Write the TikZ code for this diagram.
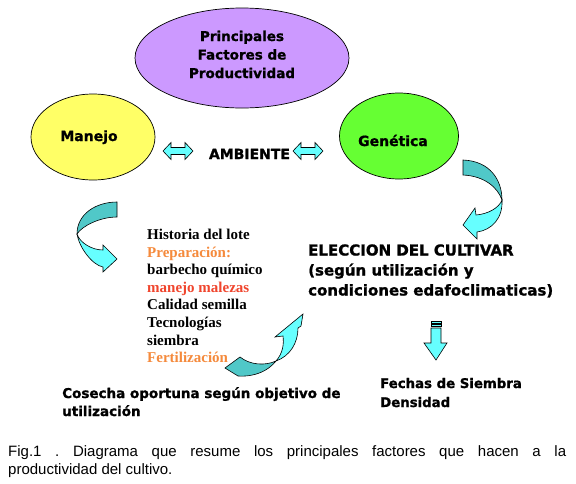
\documentclass[tikz,border=0pt]{standalone}
\usepackage{fontspec}
\setmainfont{DejaVu Sans}
\newfontfamily\verd{DejaVu Sans}[BoldFeatures={FakeBold=1.2}]
\newfontfamily\tim{Liberation Serif}
\newfontfamily\ari{Liberation Sans}
\usetikzlibrary{shapes.geometric}
\definecolor{purp}{HTML}{CC99FF}
\definecolor{yel}{HTML}{FFFF66}
\definecolor{grn}{HTML}{66FF33}
\definecolor{cyn}{HTML}{66FFFF}
\definecolor{tealdark}{HTML}{50C8C8}
\definecolor{orng}{HTML}{F58A3C}
\definecolor{redo}{HTML}{F0452D}
\frenchspacing
\begin{document}
\begin{tikzpicture}[x=1pt,y=-1pt,
  oval/.style={ellipse, draw=black, line width=0.7pt, inner sep=0pt},
  vt/.style={font=\verd\bfseries\fontsize{14}{17}\selectfont, inner sep=0pt, anchor=base},
  vtl/.style={font=\verd\bfseries\fontsize{#1}{17}\selectfont, inner sep=0pt, anchor=base west},
  lt/.style={font=\tim\bfseries\fontsize{15}{17}\selectfont, inner sep=0pt, anchor=base west},
  captxt/.style={font=\ari\fontsize{15}{17}\selectfont, inner sep=0pt, anchor=base west},
  shp/.style={draw=black, line width=0.6pt},
  dbl/.pic={\draw[shp, fill=cyn] (-15,0) -- (-7,-8.5) -- (-7,-3.5) -- (7,-3.5) -- (7,-8.5) -- (15,0)
            -- (7,8.5) -- (7,3.5) -- (-7,3.5) -- (-7,8.5) -- cycle;}
]
\fill[white] (0,0) rectangle (576,483);
\useasboundingbox (0,0) rectangle (576,483);

% ellipses
\node[oval, fill=purp, minimum width=214pt, minimum height=100pt] (prin) at (242,58) {};
\node[oval, fill=yel, minimum width=124pt, minimum height=86pt] (man) at (93,137) {};
\node[oval, fill=grn, minimum width=119pt, minimum height=86pt] (gen) at (399,136) {};

\node[vt, font=\verd\bfseries\fontsize{13.5}{17}\selectfont] (p1) at (242,41) {Principales};
\node[vt, font=\verd\bfseries\fontsize{13.5}{17}\selectfont] (p2) at (242,59.5) {Factores de};
\node[vt, font=\verd\bfseries\fontsize{13.5}{17}\selectfont] (p3) at (242,78) {Productividad};
\node[vt] (mt) at (89,141) {Manejo};
\node[vt] (gt) at (393,146) {Genética};
\node[vt] (amb) at (249.5,159) {AMBIENTE};

% double arrows
\pic (d1) at (178,151) {dbl};
\pic (d2) at (308,151) {dbl};

% curved arrow left (Manejo)
\draw[shp, fill=tealdark] (117,202) .. controls (96,202) and (77,214) .. (77,234)
   .. controls (82,226) and (100,217) .. (117,217) -- cycle;
\draw[shp, fill=cyn] (77,234) .. controls (79,247) and (92,265) .. (103,267) -- (103,272) -- (117,259)
   -- (103,245) -- (103,250) .. controls (92,250) and (80,243) .. (77,234) -- cycle;

% curved arrow right (Genetica)
\draw[shp, fill=tealdark] (463,160) .. controls (490,161) and (502,180) .. (502,200)
   .. controls (498,188) and (485,176) .. (463,175) -- cycle;
\draw[shp, fill=cyn] (502,200) .. controls (503,218) and (492,230) .. (477,232) -- (477,239) -- (463,225)
   -- (475,208) -- (476,215) .. controls (488,214) and (499,208) .. (502,200) -- cycle;

% curved arrow cosecha
\draw[shp, fill=tealdark] (240,357) -- (225,368) -- (238,376) .. controls (255,377) and (268,371) .. (276,361)
   .. controls (265,366) and (250,365) .. (240,357) -- cycle;
\draw[shp, fill=cyn] (276,361) .. controls (283,353) and (284,344) .. (283,336) -- (275,337) -- (303,314)
   -- (301,326) -- (298,328) .. controls (298,343) and (290,356) .. (276,361) -- cycle;

% down arrow
\draw[shp, fill=cyn] (431,321) rectangle (441,323);
\draw[shp, fill=cyn] (431,324.5) rectangle (441,326.5);
\draw[shp, fill=cyn] (431,328) -- (441,328) -- (441,343) -- (447,343) -- (436,360) -- (424,343) -- (431,343) -- cycle;

% list
\foreach \t/\c [count=\i from 0] in {Historia del lote/black, Preparación:/orng, barbecho químico/black,
   manejo malezas/redo, Calidad semilla/black, Tecnologías/black, siembra/black, Fertilización/orng}
  \node[lt, text=\c] (l\i) at (147,{239.5+17.6*\i}) {\t};

% eleccion
\node[vtl=15] (e1) at (308,255.5) {ELECCION DEL CULTIVAR};
\node[vtl=15] (e2) at (308,275.5) {(según utilización y};
\node[vtl=15] (e3) at (308,295.5) {condiciones edafoclimaticas)};

\node[vtl=13.3] (f1) at (380,388) {Fechas de Siembra};
\node[vtl=13.3] (f2) at (380,407) {Densidad};

\node[vtl=13.5] (c1) at (62,398) {Cosecha oportuna según objetivo de};
\node[vtl=13.5] (c2) at (62,416) {utilización};

% caption
\node[captxt] (cap1) at (8,456) {\makebox[558pt][s]{Fig.1 . Diagrama que resume los principales factores que hacen a la}};
\node[captxt] (cap2) at (8,474) {productividad del cultivo.};
\end{tikzpicture}
\end{document}
